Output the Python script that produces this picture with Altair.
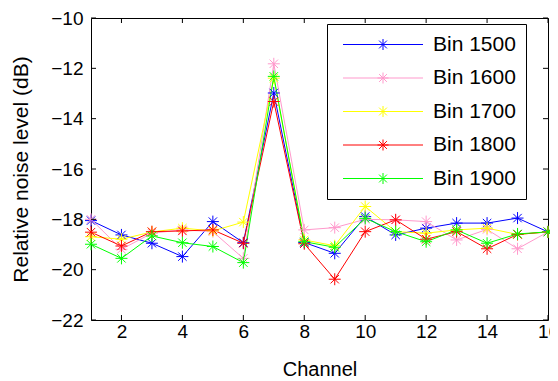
import altair as alt
import pandas as pd

channels = list(range(1, 17))
series_names = ["Bin 1500", "Bin 1600", "Bin 1700", "Bin 1800", "Bin 1900"]
series_colors = ["#0000FF", "#FF99CC", "#FFFF00", "#FF0000", "#00FF00"]

bin1500 = [-18.05, -18.62, -18.95, -19.48, -18.09, -18.93, -12.98, -18.92,
           -19.35, -17.89, -18.62, -18.35, -18.15, -18.15, -17.95, -18.5]
bin1600 = [-18.0, -19.19, -18.55, -18.42, -18.49, -19.55, -11.82, -18.42,
           -18.33, -18.0, -18.02, -18.09, -18.82, -18.4, -19.17, -18.5]
bin1700 = [-18.69, -18.79, -18.5, -18.35, -18.46, -18.11, -12.39, -18.82,
           -19.05, -17.49, -18.49, -18.55, -18.42, -18.35, -18.6, -18.5]
bin1800 = [-18.51, -19.06, -18.49, -18.46, -18.42, -18.95, -13.32, -18.97,
           -20.38, -18.49, -18.02, -18.79, -18.49, -19.17, -18.6, -18.5]
bin1900 = [-18.99, -19.55, -18.66, -18.93, -19.08, -19.72, -12.32, -18.89,
           -19.11, -17.96, -18.49, -18.89, -18.42, -18.95, -18.58, -18.5]

x_ticks = [2, 4, 6, 8, 10, 12, 14, 16]
y_ticks = [-22, -20, -18, -16, -14, -12, -10]

all_series = [bin1500, bin1600, bin1700, bin1800, bin1900]
rows = []
for si, (name, vals) in enumerate(zip(series_names, all_series)):
    for c, v in zip(channels, vals):
        rows.append({"channel": c, "value": v, "series": name, "order": si})
df = pd.DataFrame(rows)
xt = pd.DataFrame({"channel": x_ticks})
yt = pd.DataFrame({"value": y_ticks})

W, H = 457, 302
STAR = "M-1,0L1,0M0,-1L0,1M-0.7,-0.7L0.7,0.7M-0.7,0.7L0.7,-0.7"
LEG = "M-8,0L8,0M-1.1,0L1.1,0M0,-1.1L0,1.1M-0.78,-0.78L0.78,0.78M-0.78,0.78L0.78,-0.78"

x_enc = alt.X("channel:Q", title="Channel",
              scale=alt.Scale(domain=[1, 16], nice=False, zero=False),
              axis=alt.Axis(values=x_ticks, grid=False, domain=False, ticks=False,
                            tickSize=0, labelPadding=2, labelFontSize=19,
                            titleFontSize=20, titlePadding=18, labelFlush=False))
y_enc = alt.Y("value:Q", title="Relative noise level (dB)",
              scale=alt.Scale(domain=[-22, -10], nice=False, zero=False),
              axis=alt.Axis(values=y_ticks, grid=False, domain=False, ticks=False,
                            tickSize=0, labelPadding=8, labelFontSize=19,
                            titleFontSize=21, titlePadding=19))
color_enc = alt.Color("series:N",
                      scale=alt.Scale(domain=series_names, range=series_colors),
                      legend=alt.Legend(title=None, orient="none", legendX=236, legendY=6,
                                        symbolType=LEG, symbolSize=100, symbolStrokeWidth=1,
                                        symbolOffset=35.5, labelOffset=39.5, labelFontSize=21,
                                        padding=10, rowPadding=11.5, strokeColor="black",
                                        fillColor="white", labelColor="black"))

lines = alt.Chart(df).mark_line(strokeWidth=1).encode(
    x=x_enc, y=y_enc, color=color_enc, order="channel:Q", detail="series:N")
points = alt.Chart(df).mark_point(shape=STAR, size=144, filled=False, strokeWidth=1, opacity=1).encode(
    x=x_enc, y=y_enc, color=color_enc)

tick_top = alt.Chart(xt).mark_rule(color="black", strokeWidth=1).encode(
    x=x_enc, y=alt.value(0), y2=alt.value(5))
tick_bot = alt.Chart(xt).mark_rule(color="black", strokeWidth=1).encode(
    x=x_enc, y=alt.value(H), y2=alt.value(H - 5))
tick_left = alt.Chart(yt).mark_rule(color="black", strokeWidth=1).encode(
    y=y_enc, x=alt.value(0), x2=alt.value(5))
tick_right = alt.Chart(yt).mark_rule(color="black", strokeWidth=1).encode(
    y=y_enc, x=alt.value(W - 5), x2=alt.value(W))

chart = alt.layer(lines, points, tick_top, tick_bot, tick_left, tick_right).properties(
    width=W, height=H,
    padding={"left": 83, "top": 10, "right": 2, "bottom": 61},
    autosize=alt.AutoSizeParams(type="none"),
).configure(font="Liberation Sans").configure_view(
    stroke="black", strokeWidth=1
).configure_axis(
    labelColor="black", titleColor="black", titleFontWeight="normal"
)

chart.save("out.html", embed_options={"renderer": "svg", "actions": False})
